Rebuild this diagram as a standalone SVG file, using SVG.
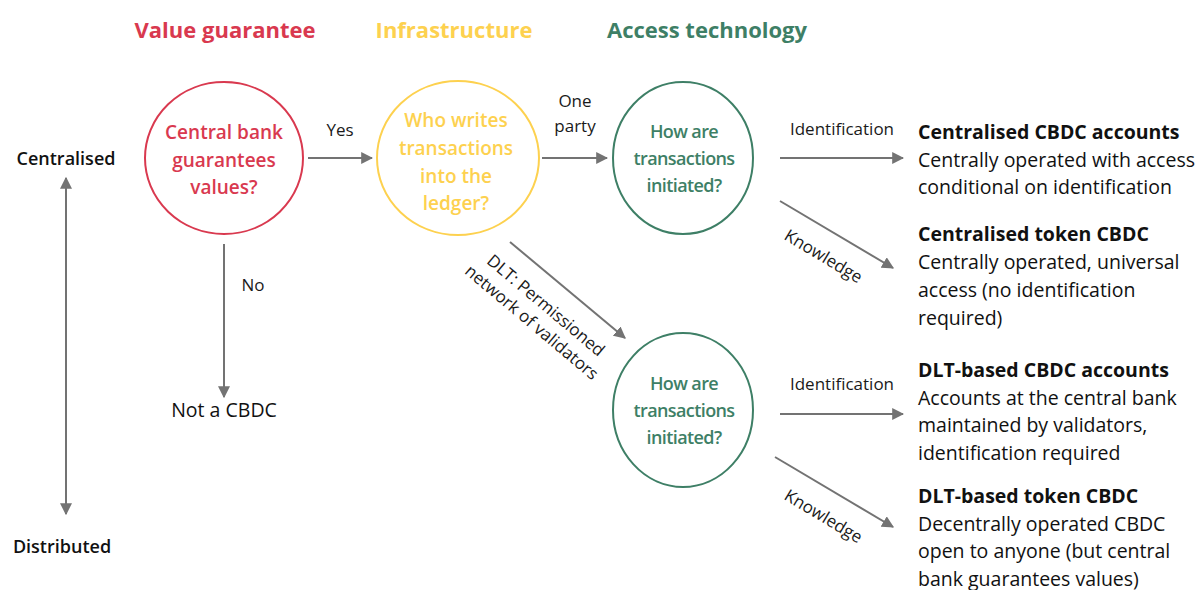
<svg xmlns="http://www.w3.org/2000/svg" width="1198" height="590" viewBox="0 0 1198 590">
<style>
text{font-family:"Open Sans","Noto Sans",sans-serif;}
.t{font-size:22px;font-weight:700;text-anchor:middle;}
.q{font-size:19px;font-weight:600;text-anchor:middle;}
.g{font-size:18px;letter-spacing:-0.6px;}
.lb{font-size:17px;fill:#1a1a1a;text-anchor:middle;}
.ax{font-size:18px;font-weight:600;fill:#111;text-anchor:middle;}
.h{font-size:19.5px;font-weight:700;fill:#111;}
.d{font-size:19.5px;fill:#111;}
.c{stroke:#737373;stroke-width:2;fill:none;}
</style>
<defs>
<marker id="ah" viewBox="0 0 10 10" refX="9" refY="5" markerWidth="6" markerHeight="6" orient="auto-start-reverse" markerUnits="strokeWidth">
<path d="M0,0 L10,5 L0,10 z" fill="#737373"/>
</marker>
</defs>
<rect width="1198" height="590" fill="#fff"/>
<g id="headers">
<text class="t" x="225" y="38" fill="#D9394F">Value guarantee</text>
<text class="t" x="454" y="38" fill="#FDD14F">Infrastructure</text>
<text class="t" x="707" y="38" fill="#3E7F66">Access technology</text>
</g>
<g id="axis-labels">
<text class="ax" x="66" y="165">Centralised</text>
<text class="ax" x="62" y="553">Distributed</text>
</g>
<g id="connectors">
<line class="c" x1="66" y1="178" x2="66" y2="514" marker-start="url(#ah)" marker-end="url(#ah)"/>
<line class="c" x1="308" y1="158" x2="372" y2="158" marker-end="url(#ah)"/>
<line class="c" x1="224" y1="244" x2="224" y2="397" marker-end="url(#ah)"/>
<line class="c" x1="542" y1="158" x2="607" y2="158" marker-end="url(#ah)"/>
<line class="c" x1="510" y1="242" x2="625" y2="338" marker-end="url(#ah)"/>
<line class="c" x1="780" y1="158" x2="903" y2="158" marker-end="url(#ah)"/>
<line class="c" x1="780" y1="201" x2="893" y2="268" marker-end="url(#ah)"/>
<line class="c" x1="780" y1="414" x2="903" y2="414" marker-end="url(#ah)"/>
<line class="c" x1="775" y1="457" x2="893" y2="527" marker-end="url(#ah)"/>
<text class="lb" x="340" y="136">Yes</text>
<text class="lb" x="253" y="291">No</text>
<text class="lb" x="575" y="107">One</text>
<text class="lb" x="575" y="132">party</text>
<text class="lb" x="842" y="135">Identification</text>
<text class="lb" x="842" y="390">Identification</text>
<text class="lb" transform="translate(823,257) rotate(31)" x="0" y="5">Knowledge</text>
<text class="lb" transform="translate(823,517) rotate(31)" x="0" y="5">Knowledge</text>
<text class="lb" transform="translate(537,316) rotate(40)" x="0" y="-8">DLT: Permissioned</text>
<text class="lb" transform="translate(537,316) rotate(40)" x="0" y="14">network of validators</text>
</g>
<g id="node-value">
<ellipse cx="224" cy="158" rx="79" ry="76" fill="#fff" stroke="#D9394F" stroke-width="2"/>
<text class="q" fill="#D9394F"><tspan x="224" y="139">Central bank</tspan><tspan x="224" y="167">guarantees</tspan><tspan x="224" y="194">values?</tspan></text>
</g>
<g id="node-infra">
<ellipse cx="458" cy="158" rx="81" ry="77" fill="#fff" stroke="#FDD14F" stroke-width="2"/>
<text class="q" fill="#FDD14F"><tspan x="456" y="127">Who writes</tspan><tspan x="456" y="155">transactions</tspan><tspan x="456" y="183">into the</tspan><tspan x="456" y="210">ledger?</tspan></text>
</g>
<g id="node-access1">
<ellipse cx="683" cy="158" rx="70" ry="76" fill="#fff" stroke="#3E7F66" stroke-width="2"/>
<text class="q g" fill="#3E7F66"><tspan x="684" y="138">How are</tspan><tspan x="684" y="165">transactions</tspan><tspan x="684" y="192">initiated?</tspan></text>
</g>
<g id="node-access2">
<ellipse cx="683" cy="410" rx="70" ry="77" fill="#fff" stroke="#3E7F66" stroke-width="2"/>
<text class="q g" fill="#3E7F66"><tspan x="684" y="390">How are</tspan><tspan x="684" y="417">transactions</tspan><tspan x="684" y="444">initiated?</tspan></text>
</g>
<g id="node-notcbdc">
<text class="d" x="224" y="417" text-anchor="middle">Not a CBDC</text>
</g>
<g id="node-cca">
<text class="h" x="918" y="139">Centralised CBDC accounts</text>
<text class="d"><tspan x="918" y="167">Centrally operated with access</tspan><tspan x="918" y="194">conditional on identification</tspan></text>
</g>
<g id="node-ctc">
<text class="h" x="918" y="241">Centralised token CBDC</text>
<text class="d"><tspan x="918" y="269">Centrally operated, universal</tspan><tspan x="918" y="297">access (no identification</tspan><tspan x="918" y="325">required)</tspan></text>
</g>
<g id="node-dca">
<text class="h" x="918" y="377">DLT-based CBDC accounts</text>
<text class="d"><tspan x="918" y="405">Accounts at the central bank</tspan><tspan x="918" y="432">maintained by validators,</tspan><tspan x="918" y="460">identification required</tspan></text>
</g>
<g id="node-dtc">
<text class="h" x="918" y="503">DLT-based token CBDC</text>
<text class="d"><tspan x="918" y="531">Decentrally operated CBDC</tspan><tspan x="918" y="558">open to anyone (but central</tspan><tspan x="918" y="586">bank guarantees values)</tspan></text>
</g>
</svg>
